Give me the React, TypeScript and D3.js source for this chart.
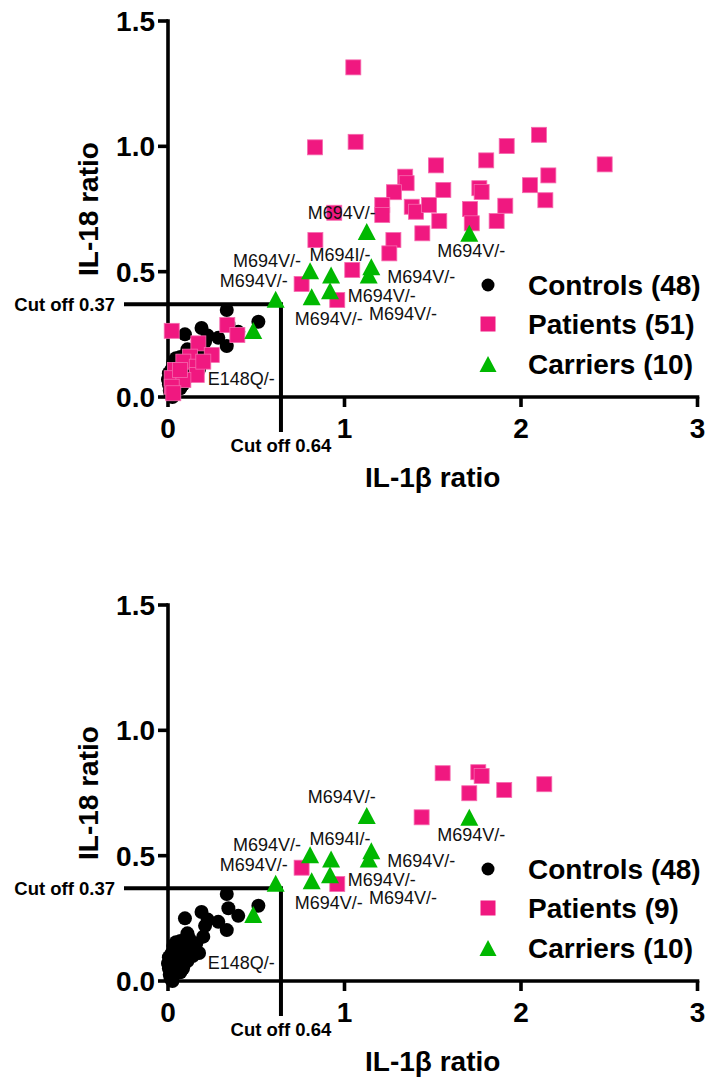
import React from "react";
import * as d3 from "d3";

// ---------- data ----------
const xTicks = [0, 1, 2, 3];
const yTicks = [0, 0.5, 1.0, 1.5];
const yTickLabels = ["0.0", "0.5", "1.0", "1.5"];
const cutoffX = 0.64;
const cutoffY = 0.37;

const controls: [number, number][] = [
  [0.333, 0.347], [0.512, 0.3], [0.342, 0.29], [0.398, 0.26], [0.285, 0.236], [0.333, 0.203],
  [0.19, 0.275], [0.096, 0.25], [0.225, 0.245], [0.21, 0.22], [0.2, 0.177], [0.176, 0.112],
  [0.134, 0.144], [0.16, 0.15], [0.12, 0.17], [0.1, 0.13], [0.14, 0.1], [0.08, 0.14],
  [0.06, 0.12], [0.03, 0.14], [0.02, 0.11], [0.05, 0.1], [0.075, 0.085], [0.04, 0.08],
  [0.015, 0.08], [0.09, 0.065], [0.06, 0.06], [0.03, 0.06], [0.005, 0.05], [0.05, 0.045],
  [0.02, 0.035], [0.04, 0.03], [0.01, 0.025], [0.03, 0.02], [0.015, 0.01], [0.07, 0.035],
  [0.085, 0.05], [0.11, 0.08], [0.12, 0.115], [0.15, 0.125], [0.1, 0.1], [0.0, 0.07],
  [0.005, 0.095], [0.035, 0.125], [0.045, 0.155], [0.025, 0.0], [0.07, 0.16], [0.11, 0.19],
];

const patientsAll: [number, number][] = [
  [1.05, 1.315], [0.833, 0.996], [1.063, 1.018], [2.102, 1.046], [1.919, 1.001], [2.474, 0.928],
  [1.803, 0.944], [1.518, 0.924], [2.155, 0.884], [2.051, 0.845], [1.344, 0.879], [1.352, 0.853],
  [1.28, 0.817], [1.56, 0.826], [1.764, 0.833], [1.777, 0.818], [2.138, 0.785], [1.214, 0.766],
  [1.214, 0.726], [1.381, 0.759], [1.405, 0.739], [1.479, 0.766], [1.711, 0.75], [1.911, 0.763],
  [1.721, 0.693], [1.862, 0.702], [1.537, 0.702], [1.441, 0.653], [1.277, 0.626], [1.254, 0.573],
  [0.942, 0.735], [0.835, 0.626], [1.044, 0.507], [0.757, 0.451], [0.959, 0.387],
  [0.021, 0.264], [0.336, 0.287], [0.393, 0.247], [0.172, 0.214], [0.248, 0.168], [0.125, 0.161],
  [0.087, 0.141], [0.163, 0.121], [0.04, 0.108], [0.021, 0.075], [0.163, 0.088], [0.087, 0.068],
  [0.021, 0.041], [0.03, 0.015], [0.2, 0.141], [0.068, 0.108],
];

const patientsSubset: [number, number][] = [
  [1.556, 0.829], [1.758, 0.833], [1.777, 0.818], [1.707, 0.749], [1.905, 0.762],
  [2.132, 0.785], [1.437, 0.653], [0.757, 0.452], [0.959, 0.387],
];

const carriers: [number, number][] = [
  [1.126, 0.66], [1.707, 0.653], [0.805, 0.504], [0.924, 0.487], [1.152, 0.52],
  [1.137, 0.487], [0.814, 0.4], [0.918, 0.424], [0.61, 0.39], [0.483, 0.265],
];
const carrierLabels = [
  "M694V/-", "M694V/-", "M694V/-", "M694I/-", "M694V/-",
  "M694V/-", "M694V/-", "M694V/-", "M694V/-", "E148Q/-",
];
// label placement offsets (px) relative to each triangle
const labelOffsets: [number, number][] = [
  [-25, -19], [2, 17], [-43, -10], [9, -20], [50, 10],
  [13, 21], [17, 22], [73, 23], [-22, -19], [-12, 48],
];

const legendTop = ["Controls (48)", "Patients (51)", "Carriers (10)"];
const legendBottom = ["Controls (48)", "Patients (9)", "Carriers (10)"];

// ---------- style ----------
const FONT = "Arial, 'Liberation Sans', Helvetica, sans-serif";
const PINK = "#F01880";
const GREEN = "#00B800";
const BLACK = "#000";

const x = d3.scaleLinear().domain([0, 3]).range([168, 697.5]);
const y = d3.scaleLinear().domain([0, 1.5]).range([397, 21]);

function tri(cx: number, cy: number, w: number, h: number) {
  const p = d3.path();
  p.moveTo(cx, cy - h / 2);
  p.lineTo(cx + w / 2, cy + h / 2);
  p.lineTo(cx - w / 2, cy + h / 2);
  p.closePath();
  return p.toString();
}

function Panel({ offset, patients, legend }: { offset: number; patients: [number, number][]; legend: string[] }) {
  const lw = 3.6;
  return (
    <g transform={`translate(0,${offset})`} fontFamily={FONT}>
      {/* axes */}
      <line x1={x(0)} x2={x(0)} y1={y(1.5)} y2={y(0)} stroke={BLACK} strokeWidth={lw} strokeLinecap="square" />
      <line x1={x(0)} x2={x(3)} y1={y(0)} y2={y(0)} stroke={BLACK} strokeWidth={lw} strokeLinecap="square" />
      {yTicks.map((t, i) => (
        <g key={"yt" + i}>
          <line x1={x(0) - 10} x2={x(0)} y1={y(t)} y2={y(t)} stroke={BLACK} strokeWidth={lw} />
          <text x={x(0) - 13} y={y(t) + 10} textAnchor="end" fontSize={28} fontWeight="bold">{yTickLabels[i]}</text>
        </g>
      ))}
      {xTicks.map((t, i) => (
        <g key={"xt" + i}>
          <line x1={x(t)} x2={x(t)} y1={y(0)} y2={y(0) + 10} stroke={BLACK} strokeWidth={lw} />
          <text x={x(t)} y={y(0) + 41} textAnchor="middle" fontSize={28} fontWeight="bold">{String(t)}</text>
        </g>
      ))}
      <text x={(x(0) + x(3)) / 2} y={y(0) + 90} textAnchor="middle" fontSize={28} fontWeight="bold">IL-1β ratio</text>
      <text transform={`translate(98,${(y(0) + y(1.5)) / 2}) rotate(-90)`} textAnchor="middle" fontSize={28} fontWeight="bold">IL-18 ratio</text>

      {/* cut-off lines */}
      <line x1={124} x2={x(cutoffX)} y1={y(cutoffY)} y2={y(cutoffY)} stroke={BLACK} strokeWidth={4} />
      <line x1={x(cutoffX)} x2={x(cutoffX)} y1={y(cutoffY) - 2} y2={y(0) + 35} stroke={BLACK} strokeWidth={4} />
      <text x={115} y={y(cutoffY) + 7} textAnchor="end" fontSize={18.5} fontWeight="bold">Cut off 0.37</text>
      <text x={x(cutoffX)} y={y(0) + 55} textAnchor="middle" fontSize={18.5} fontWeight="bold">Cut off 0.64</text>

      {/* points */}
      {controls.map((d, i) => (
        <circle key={"c" + i} cx={x(d[0])} cy={y(d[1])} r={7} fill={BLACK} />
      ))}
      {patients.map((d, i) => (
        <rect key={"p" + i} x={x(d[0]) - 7.5} y={y(d[1]) - 7.5} width={15} height={15} fill={PINK} stroke="#F66AAE" strokeWidth={0.8} />
      ))}
      {carriers.map((d, i) => (
        <path key={"t" + i} d={tri(x(d[0]), y(d[1]), 18, 17)} fill={GREEN} />
      ))}
      {carriers.map((d, i) => (
        <text key={"l" + i} x={x(d[0]) + labelOffsets[i][0]} y={y(d[1]) + labelOffsets[i][1] + 6.5}
          textAnchor="middle" fontSize={18} fill="#111">{carrierLabels[i]}</text>
      ))}

      {/* legend */}
      <circle cx={488} cy={285} r={6.5} fill={BLACK} />
      <rect x={480.5} y={316.5} width={15} height={15} fill={PINK} />
      <path d={tri(488, 364, 17, 16)} fill={GREEN} />
      {legend.map((s, i) => (
        <text key={"lg" + i} x={528} y={[285, 324, 364][i] + 10} fontSize={28} fontWeight="bold">{s}</text>
      ))}
    </g>
  );
}

export default function App() {
  return (
    <svg width={708} height={1078} style={{ position: "absolute", left: 0, top: 0, background: "#fff" }}>
      <rect width={708} height={1078} fill="#fff" />
      <Panel offset={0} patients={patientsAll} legend={legendTop} />
      <Panel offset={584} patients={patientsSubset} legend={legendBottom} />
    </svg>
  );
}
